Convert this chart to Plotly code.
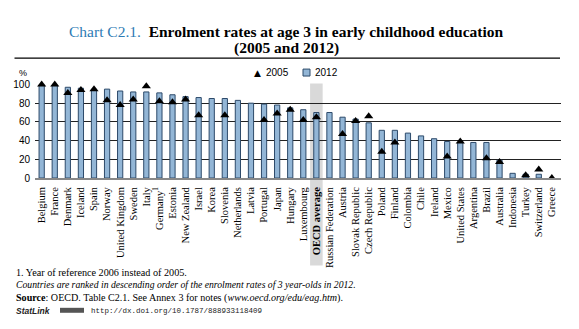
import plotly.graph_objects as go

countries = ["Belgium", "France", "Denmark", "Iceland", "Spain", "Norway", "United Kingdom",
             "Sweden", "Italy", "Germany", "Estonia", "New Zealand", "Israel", "Korea",
             "Slovenia", "Netherlands", "Latvia", "Portugal", "Japan", "Hungary", "Luxembourg",
             "OECD average", "Russian Federation", "Austria", "Slovak Republic", "Czech Republic",
             "Poland", "Finland", "Colombia", "Chile", "Ireland", "Mexico", "United States",
             "Argentina", "Brazil", "Australia", "Indonesia", "Turkey", "Switzerland", "Greece"]

tick_labels = ["Belgium", "France", "Denmark", "Iceland", "Spain", "Norway", "United Kingdom",
               "Sweden", "Italy", "Germany<sup>1</sup>", "Estonia", "New Zealand", "Israel", "Korea",
               "Slovenia", "Netherlands", "Latvia", "Portugal", "Japan", "Hungary", "Luxembourg",
               "<b>OECD average</b>", "Russian Federation", "Austria", "Slovak Republic",
               "Czech Republic", "Poland", "Finland", "Colombia", "Chile", "Ireland", "Mexico",
               "United States", "Argentina", "Brazil", "Australia", "Indonesia", "Turkey",
               "Switzerland", "Greece"]

rates_2012 = [99, 99, 97, 96, 95, 95, 93, 92, 92, 91, 89, 87, 86, 85, 85, 83, 80, 79, 78, 75,
              73, 70, 70, 65, 63, 59, 51, 51, 48, 45, 42, 39, 38, 38, 38, 19, 5, 4, 4, None]

rates_2005 = [100, 100, 91, 94, 95, 83, 78, 84, 98, 82, 81, 84, 67, None, 67, None, None, 62, 69,
              73, 62, 65, None, 47, 61, 66, 28, 38, None, None, None, 23, 39, None, 21, 17, None,
              3, 9, 0]

y_ticks = [0, 20, 40, 60, 80, 100]

# pixel layout helpers (positions only)
L, R, T, B = 35, 561, 83.5, 178
X_RANGE = [-0.51, 39.7]
Y_RANGE = [0, 100.5]
W, H = 579, 329

BAR_FILL = "#93b6d6"
BAR_LINE = "#2d4a6a"


def px(x):
    return (x - L) / (R - L)


def py(y):
    return (B - y) / (B - T)


SERIF = "Liberation Serif, Times New Roman, serif"
SANS = "Liberation Sans, Arial, sans-serif"

fig = go.Figure()
fig.add_trace(go.Bar(
    x=countries, y=rates_2012, name="2012", width=0.4,
    marker=dict(color=BAR_FILL, line=dict(color=BAR_LINE, width=1)),
))
fig.add_trace(go.Scatter(
    x=countries, y=rates_2005, name="2005", mode="markers",
    marker=dict(symbol="triangle-up", size=8, color="black"),
    cliponaxis=False,
))

# grey band behind OECD average
oi = countries.index("OECD average")
bx0 = ((oi - 0.48) - X_RANGE[0]) / (X_RANGE[1] - X_RANGE[0])
bx1 = ((oi + 0.48) - X_RANGE[0]) / (X_RANGE[1] - X_RANGE[0])
shapes = [
    dict(type="rect", xref="paper", yref="paper", x0=bx0, x1=bx1, y0=py(266), y1=py(83),
         fillcolor="#d9d9d9", line=dict(width=0), layer="below"),
    dict(type="line", xref="paper", yref="paper", x0=px(14.5), x1=px(560), y0=py(57.5), y1=py(57.5),
         line=dict(color="black", width=1.2)),
    # legend swatch for 2012
    dict(type="rect", xref="paper", yref="paper", x0=px(303), x1=px(310), y0=py(75.5), y1=py(68.5),
         fillcolor=BAR_FILL, line=dict(color=BAR_LINE, width=1)),
    # StatLink icon
    dict(type="rect", xref="paper", yref="paper", x0=px(60), x1=px(84), y0=py(313.5), y1=py(308.5),
         fillcolor="#555555", line=dict(width=0)),
]


def note(text, x, y, family, size, anchor="left", color="black"):
    return dict(text=text, x=px(x), y=py(y), xref="paper", yref="paper", showarrow=False,
                xanchor=anchor, yanchor="middle", font=dict(family=family, size=size, color=color))


annotations = [
    note("<span style='color:#2e7bb4'>Chart C2.1.</span>  <b>Enrolment rates at age 3 in early childhood education</b>",
         286, 31, SERIF, 15.5, "center"),
    note("<b>(2005 and 2012)</b>", 286, 47.5, SERIF, 15.5, "center"),
    note("%", 17, 72.5, SANS, 9),
    # legend
    note("▲", 257, 72, "DejaVu Sans", 9, "center"),
    note("2005", 263.5, 72, SANS, 10),
    note("2012", 312.5, 72, SANS, 10),
    # footnotes
    note("1. Year of reference 2006 instead of 2005.", 14, 272.5, SERIF, 10.2),
    note("<i>Countries are ranked in descending order of the enrolment rates of 3 year-olds in 2012.</i>",
         14, 285.5, SERIF, 9.7),
    note("<b>Source</b>: OECD. Table C2.1. See Annex 3 for notes (<i>www.oecd.org/edu/eag.htm</i>).",
         14, 298.5, SERIF, 10.1),
    note("<b><i>StatLink</i></b>", 14, 311.5, SANS, 8.5, color="#222222"),
    note("http://dx.doi.org/10.1787/888933118409", 89, 311.5, "Liberation Mono, monospace", 7.5,
         color="#222222"),
]

fig.update_layout(
    width=W, height=H,
    margin=dict(l=L, r=W - R, t=T, b=H - B, pad=0),
    paper_bgcolor="white", plot_bgcolor="rgba(0,0,0,0)",
    showlegend=False,
    shapes=shapes,
    annotations=annotations,
    xaxis=dict(range=X_RANGE, tickmode="array", tickvals=countries, ticktext=tick_labels,
               tickangle=-90, tickfont=dict(family=SERIF, size=10.5, color="black"),
               showgrid=False, showline=True, linecolor="#888888", linewidth=2,
               ticks="", ticklabelstandoff=3, fixedrange=True),
    yaxis=dict(range=Y_RANGE, tickvals=y_ticks, showgrid=True, gridcolor="#222222", gridwidth=1,
               zeroline=False, showline=False, ticks="", ticklabelstandoff=4,
               tickfont=dict(family=SANS, size=10, color="black"), fixedrange=True),
)

fig.write_html("out.html")
